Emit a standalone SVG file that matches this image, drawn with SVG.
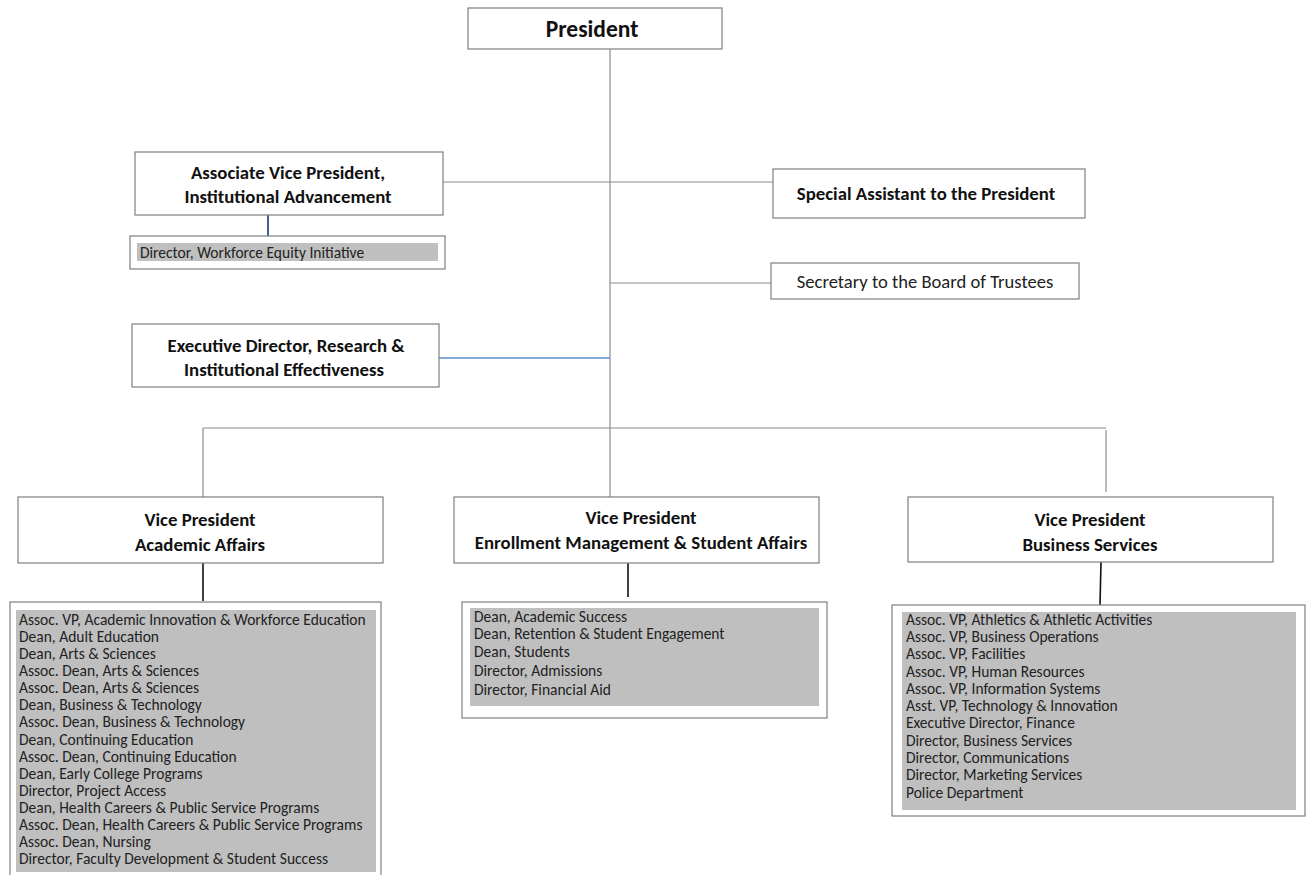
<svg xmlns="http://www.w3.org/2000/svg" width="1306" height="875" viewBox="0 0 1306 875">
<style>
  .box { fill: #ffffff; stroke: #7f7f7f; stroke-width: 1.2; }
  .gray { fill: #bfbfbf; stroke: none; }
  .conn { stroke: #8c8c8c; stroke-width: 1.2; fill: none; }
  .blk { stroke: #111111; stroke-width: 1.6; fill: none; }
  .blue1 { stroke: #2f4f7f; stroke-width: 1.8; fill: none; }
  .blue2 { stroke: #5b8bd0; stroke-width: 1.6; fill: none; }
  .b { font-family: Carlito, Lato, "Open Sans", sans-serif; font-weight: bold; font-size: 18.8px; fill: #111; text-anchor: middle; }
  .n { font-family: Carlito, Lato, "Open Sans", sans-serif; font-size: 18.6px; fill: #222; text-anchor: middle; }
  .l { font-family: Carlito, Lato, "Open Sans", sans-serif; font-size: 15.5px; fill: #222; }
</style>
<rect width="1306" height="875" fill="#ffffff"/>
<g id="connectors">
  <line class="conn" x1="610" y1="49" x2="610" y2="497"/>
  <line class="conn" x1="443" y1="182" x2="773" y2="182"/>
  <line class="conn" x1="610" y1="283" x2="771" y2="283"/>
  <line class="blue2" x1="439" y1="358" x2="610" y2="358"/>
  <line class="blue1" x1="268" y1="215" x2="268" y2="237"/>
  <line class="conn" x1="203" y1="428" x2="1106" y2="428"/>
  <line class="conn" x1="203" y1="428" x2="203" y2="497"/>
  <line class="conn" x1="1106" y1="430" x2="1106" y2="492"/>
  <line class="blk" x1="203" y1="563" x2="203" y2="601"/>
  <line class="blk" x1="628" y1="563" x2="628" y2="597"/>
  <line class="blk" x1="1101" y1="562" x2="1100" y2="605"/>
</g>
<g id="president">
  <rect class="box" x="468" y="8" width="254" height="41"/>
  <text class="b" x="592" y="37" style="font-size:23.5px">President</text>
</g>
<g id="avp-advancement">
  <rect class="box" x="135" y="152" width="308" height="63"/>
  <text class="b" x="288" y="179">Associate Vice President,</text>
  <text class="b" x="288" y="203">Institutional Advancement</text>
</g>
<g id="dir-workforce">
  <rect class="box" x="130" y="236" width="315" height="33"/>
  <rect class="gray" x="137" y="243" width="301" height="18"/>
  <text class="l" x="140" y="258">Director, Workforce Equity Initiative</text>
</g>
<g id="special-assistant">
  <rect class="box" x="773" y="169" width="312" height="49"/>
  <text class="b" x="926" y="200">Special Assistant to the President</text>
</g>
<g id="secretary">
  <rect class="box" x="771" y="263" width="308" height="36"/>
  <text class="n" x="925" y="288">Secretary to the Board of Trustees</text>
</g>
<g id="exec-director">
  <rect class="box" x="132" y="324" width="307" height="63"/>
  <text class="b" x="286" y="352">Executive Director, Research &amp;</text>
  <text class="b" x="284" y="376">Institutional Effectiveness</text>
</g>
<g id="vp-academic">
  <rect class="box" x="18" y="497" width="365" height="66"/>
  <text class="b" x="200" y="526">Vice President</text>
  <text class="b" x="200" y="551">Academic Affairs</text>
</g>
<g id="vp-enrollment">
  <rect class="box" x="454" y="497" width="365" height="66"/>
  <text class="b" x="641" y="524">Vice President</text>
  <text class="b" x="641" y="549">Enrollment Management &amp; Student Affairs</text>
</g>
<g id="vp-business">
  <rect class="box" x="908" y="497" width="365" height="65"/>
  <text class="b" x="1090" y="526">Vice President</text>
  <text class="b" x="1090" y="551">Business Services</text>
</g>
<g id="academic-list">
  <rect class="box" x="10" y="602" width="371" height="276"/>
  <rect class="gray" x="16" y="610" width="360" height="262"/>
  <text class="l" x="19" y="625">Assoc. VP, Academic Innovation &amp; Workforce Education</text>
  <text class="l" x="19" y="642">Dean, Adult Education</text>
  <text class="l" x="19" y="659">Dean, Arts &amp; Sciences</text>
  <text class="l" x="19" y="676">Assoc. Dean, Arts &amp; Sciences</text>
  <text class="l" x="19" y="693">Assoc. Dean, Arts &amp; Sciences</text>
  <text class="l" x="19" y="710">Dean, Business &amp; Technology</text>
  <text class="l" x="19" y="727">Assoc. Dean, Business &amp; Technology</text>
  <text class="l" x="19" y="745">Dean, Continuing Education</text>
  <text class="l" x="19" y="762">Assoc. Dean, Continuing Education</text>
  <text class="l" x="19" y="779">Dean, Early College Programs</text>
  <text class="l" x="19" y="796">Director, Project Access</text>
  <text class="l" x="19" y="813">Dean, Health Careers &amp; Public Service Programs</text>
  <text class="l" x="19" y="830">Assoc. Dean, Health Careers &amp; Public Service Programs</text>
  <text class="l" x="19" y="847">Assoc. Dean, Nursing</text>
  <text class="l" x="19" y="864">Director, Faculty Development &amp; Student Success</text>
</g>
<g id="enrollment-list">
  <rect class="box" x="462" y="602" width="365" height="116"/>
  <rect class="gray" x="470" y="608" width="349" height="98"/>
  <text class="l" x="474" y="622">Dean, Academic Success</text>
  <text class="l" x="474" y="639">Dean, Retention &amp; Student Engagement</text>
  <text class="l" x="474" y="657">Dean, Students</text>
  <text class="l" x="474" y="676">Director, Admissions</text>
  <text class="l" x="474" y="695">Director, Financial Aid</text>
</g>
<g id="business-list">
  <rect class="box" x="892" y="605" width="413" height="211"/>
  <rect class="gray" x="902" y="612" width="394" height="198"/>
  <text class="l" x="906" y="625">Assoc. VP, Athletics &amp; Athletic Activities</text>
  <text class="l" x="906" y="642">Assoc. VP, Business Operations</text>
  <text class="l" x="906" y="659">Assoc. VP, Facilities</text>
  <text class="l" x="906" y="677">Assoc. VP, Human Resources</text>
  <text class="l" x="906" y="694">Assoc. VP, Information Systems</text>
  <text class="l" x="906" y="711">Asst. VP, Technology &amp; Innovation</text>
  <text class="l" x="906" y="728">Executive Director, Finance</text>
  <text class="l" x="906" y="746">Director, Business Services</text>
  <text class="l" x="906" y="763">Director, Communications</text>
  <text class="l" x="906" y="780">Director, Marketing Services</text>
  <text class="l" x="906" y="798">Police Department</text>
</g>
</svg>
